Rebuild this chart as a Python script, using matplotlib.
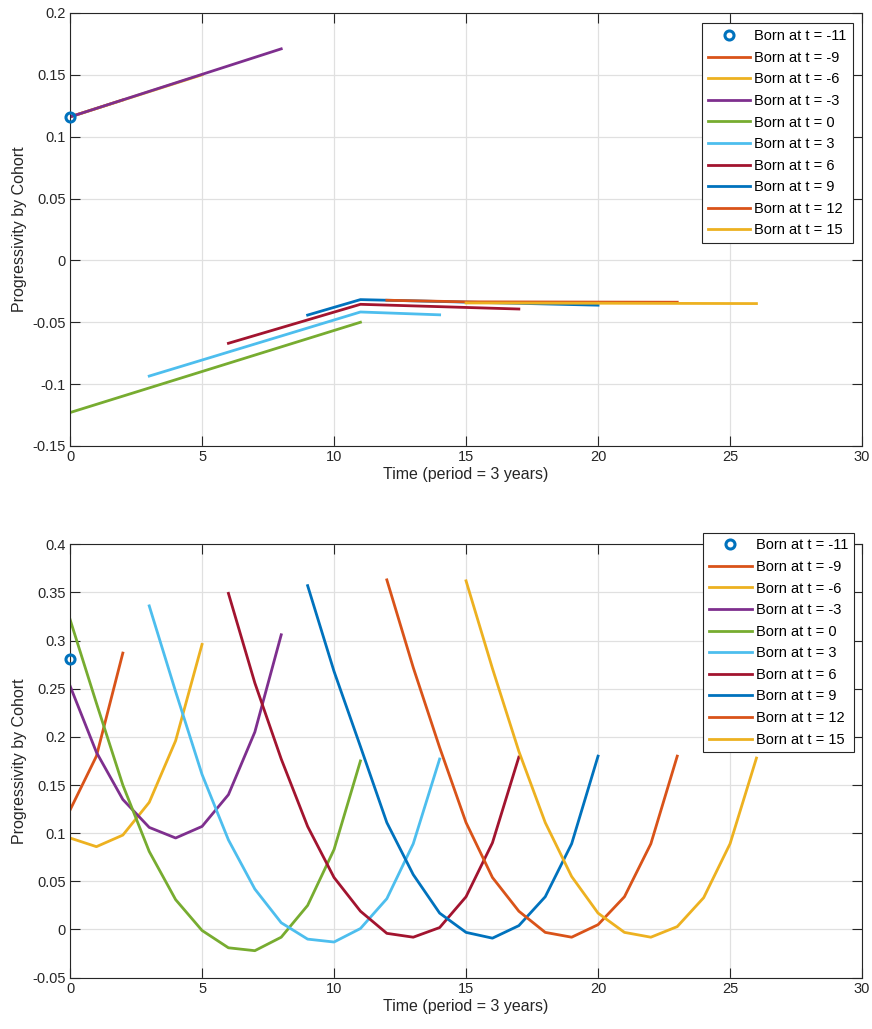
import matplotlib
matplotlib.use("Agg")
import matplotlib.pyplot as plt
from matplotlib.ticker import FuncFormatter

plt.rcParams["font.family"] = ["Liberation Sans", "DejaVu Sans"]
plt.rcParams["axes.unicode_minus"] = False

# MATLAB default line colours
BLUE = (0.0, 0.447, 0.741)
ORANGE = (0.85, 0.325, 0.098)
YELLOW = (0.929, 0.694, 0.125)
PURPLE = (0.494, 0.184, 0.556)
GREEN = (0.466, 0.674, 0.188)
LBLUE = (0.301, 0.745, 0.933)
DRED = (0.635, 0.078, 0.184)

labels = ["Born at t = -11", "Born at t = -9", "Born at t = -6", "Born at t = -3",
          "Born at t = 0", "Born at t = 3", "Born at t = 6", "Born at t = 9",
          "Born at t = 12", "Born at t = 15"]
colors = [BLUE, ORANGE, YELLOW, PURPLE, GREEN, LBLUE, DRED, BLUE, ORANGE, YELLOW]

# top panel (straight segments between kinks)
top_x = [
    [0],
    [0, 2],
    [0, 5],
    [0, 8],
    [0, 11],
    [3, 11, 14],
    [6, 11, 17],
    [9, 11, 20],
    [12, 15, 23],
    [15, 26],
]
top_y = [
    [0.116],
    [0.116, 0.1297],
    [0.116, 0.150],
    [0.116, 0.171],
    [-0.123, -0.050],
    [-0.0935, -0.0417, -0.044],
    [-0.067, -0.0355, -0.0393],
    [-0.0442, -0.0317, -0.0362],
    [-0.0322, -0.0335, -0.0338],
    [-0.0344, -0.0349],
]

# bottom panel
bot_start = [0, 0, 0, 0, 0, 3, 6, 9, 12, 15]
bot_y = [
    [0.281],
    [0.124, 0.180, 0.287],
    [0.095, 0.086, 0.098, 0.132, 0.196, 0.296],
    [0.253, 0.184, 0.135, 0.106, 0.095, 0.107, 0.140, 0.205, 0.306],
    [0.322, 0.235, 0.150, 0.081, 0.031, -0.001, -0.019, -0.022, -0.008, 0.025, 0.083, 0.175],
    [0.336, 0.247, 0.161, 0.093, 0.042, 0.007, -0.010, -0.013, 0.001, 0.032, 0.089, 0.177],
    [0.349, 0.256, 0.177, 0.107, 0.054, 0.019, -0.004, -0.008, 0.002, 0.034, 0.090, 0.179],
    [0.357, 0.268, 0.190, 0.111, 0.057, 0.017, -0.003, -0.009, 0.004, 0.034, 0.089, 0.180],
    [0.363, 0.272, 0.189, 0.111, 0.054, 0.019, -0.003, -0.008, 0.005, 0.034, 0.089, 0.180],
    [0.362, 0.271, 0.185, 0.111, 0.055, 0.017, -0.003, -0.008, 0.003, 0.033, 0.089, 0.178],
]
bot_x = [list(range(s, s + len(v))) for s, v in zip(bot_start, bot_y)]

DARK = (0.15, 0.15, 0.15)


def style_axes(ax, ylim, yticks):
    ax.set_xlim(0, 30)
    ax.set_ylim(*ylim)
    ax.set_xticks(range(0, 31, 5))
    ax.set_yticks(yticks)
    ax.yaxis.set_major_formatter(FuncFormatter(lambda v, p: "%g" % round(v, 4)))
    ax.grid(True, color=(0.88, 0.88, 0.88), linewidth=0.9)
    ax.set_axisbelow(True)
    ax.tick_params(direction="in", top=True, right=True, length=7, width=0.8,
                   labelsize=10.5, colors=DARK, pad=3)
    for sp in ax.spines.values():
        sp.set_color(DARK)
        sp.set_linewidth(0.8)
    ax.set_xlabel("Time (period = 3 years)", fontsize=11.5, color=DARK, labelpad=2)
    ax.set_ylabel("Progressivity by Cohort", fontsize=11.5, color=DARK, labelpad=4)


def draw(ax, xs, ys):
    for i, (x, y) in enumerate(zip(xs, ys)):
        if i == 0:
            ax.plot(x, y, "o", mfc="none", mec=colors[i], mew=2.2, ms=6.5,
                    label=labels[i], clip_on=False, zorder=5)
        else:
            ax.plot(x, y, color=colors[i], lw=2.0, label=labels[i])


fig = plt.figure(figsize=(8.72, 10.29), dpi=100)
ax1 = fig.add_axes([0.0803, 0.5666, 0.9083, 0.4208])
ax2 = fig.add_axes([0.0803, 0.0499, 0.9083, 0.4212])

draw(ax1, top_x, top_y)
style_axes(ax1, (-0.15, 0.2), [-0.15, -0.1, -0.05, 0, 0.05, 0.1, 0.15, 0.2])

draw(ax2, bot_x, bot_y)
style_axes(ax2, (-0.05, 0.4), [-0.05, 0, 0.05, 0.1, 0.15, 0.2, 0.25, 0.3, 0.35, 0.4])

for ax, anchor in [(ax1, (0.988, 0.976)), (ax2, (0.99, 1.027))]:
    leg = ax.legend(loc="upper right", bbox_to_anchor=anchor, fontsize=10.5,
                    handlelength=2.9, handletextpad=0.3, labelspacing=0.52,
                    borderpad=0.4, borderaxespad=0, fancybox=False,
                    framealpha=1, edgecolor=DARK)
    leg.get_frame().set_linewidth(0.8)

fig.savefig("out.png", dpi=100)
